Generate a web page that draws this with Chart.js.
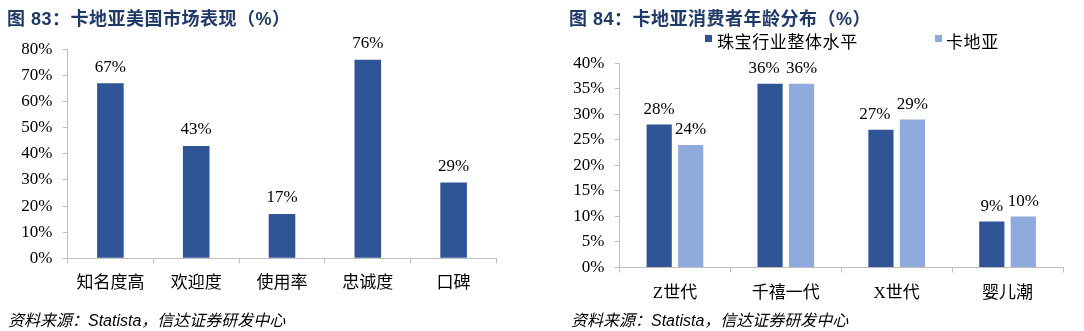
<!DOCTYPE html>
<html>
<head>
<meta charset="utf-8">
<script src="https://cdn.jsdelivr.net/npm/chart.js@4.4.1/dist/chart.umd.min.js"></script>
<style>
  body { margin: 0; background: #fff; }
  #page { position: relative; width: 1084px; height: 331px; overflow: hidden; }
  canvas { position: absolute; top: 0; }
  .title {
    position: absolute; top: 4px; white-space: nowrap;
    font: bold 18px "Liberation Sans", "Noto Sans CJK SC", sans-serif;
    letter-spacing: 0.5px; color: #1F3A68;
  }
  .source {
    position: absolute; top: 307px; white-space: nowrap;
    font: italic 16px "Liberation Sans", "Noto Sans CJK SC", sans-serif;
    color: #000;
  }
  .legend-box { position: absolute; top: 35px; width: 7px; height: 7px; }
  .legend-text {
    position: absolute; top: 28px; white-space: nowrap;
    font: 17px "Liberation Serif", "Noto Sans CJK SC", serif;
    letter-spacing: 0.6px; color: #000;
  }
</style>
</head>
<body>
<div id="page">
  <canvas id="perf-chart" width="540" height="320" style="left:0"></canvas>
  <canvas id="age-chart" width="524" height="320" style="left:560px"></canvas>

  <div class="title" style="left:7px">图 83：卡地亚美国市场表现（%）</div>
  <div class="title" style="left:569px">图 84：卡地亚消费者年龄分布（%）</div>

  <div class="legend-box" style="left:705px;background:#2F5597"></div>
  <div class="legend-text" style="left:717px">珠宝行业整体水平</div>
  <div class="legend-box" style="left:935px;background:#8FAADC"></div>
  <div class="legend-text" style="left:946px">卡地亚</div>

  <div class="source" style="left:8px">资料来源：Statista，信达证券研发中心</div>
  <div class="source" style="left:571px">资料来源：Statista，信达证券研发中心</div>
</div>
<script>
// 图83 数据
var perfLabels = ["知名度高", "欢迎度", "使用率", "忠诚度", "口碑"];
var perfValues = [67, 43, 17, 76, 29];
var perfTicks = [0, 10, 20, 30, 40, 50, 60, 70, 80];

// 图84 数据
var ageLabels = ["Z世代", "千禧一代", "X世代", "婴儿潮"];
var industryValues = [28, 36, 27, 9];
var cartierValues = [24, 36, 29, 10];
var ageTicks = [0, 5, 10, 15, 20, 25, 30, 35, 40];

var AXIS_GREY = "#BFBFBF";
var SERIF = '"Liberation Serif", "Noto Sans CJK SC", serif';

// 柱顶数值标签；相邻两个标签挤在一起时，把左边那个往左挪一点
var valueLabels = {
  id: "valueLabels",
  afterDatasetsDraw(chart, args, opts) {
    var ctx = chart.ctx;
    ctx.save();
    ctx.font = "17px " + SERIF;
    ctx.fillStyle = "#000";
    ctx.textAlign = "center";
    ctx.textBaseline = "alphabetic";
    var sets = chart.data.datasets;
    sets.forEach(function (ds, i) {
      chart.getDatasetMeta(i).data.forEach(function (bar, j) {
        var text = ds.data[j] + "%";
        var x = bar.x;
        if (i === 0 && sets.length > 1) {
          var other = chart.getDatasetMeta(1).data[j];
          var w1 = ctx.measureText(text).width;
          var w2 = ctx.measureText(sets[1].data[j] + "%").width;
          if (Math.abs(other.y - bar.y) < 14 && other.x - bar.x < (w1 + w2) / 2 + 4) x -= 6;
        }
        ctx.fillText(text, x, bar.y - opts.offset);
      });
    });
    ctx.restore();
  },
};

function axisOptions(ticks, yWidth, xHeight, xPad) {
  return {
    x: {
      grid: { offset: true, drawOnChartArea: false, tickLength: 5, tickColor: AXIS_GREY },
      border: { color: AXIS_GREY },
      ticks: { color: "#000", font: { family: SERIF, size: 17 }, padding: xPad, maxRotation: 0 },
      afterFit: function (s) { s.height = xHeight; },
    },
    y: {
      min: ticks[0],
      max: ticks[ticks.length - 1],
      grid: { drawOnChartArea: false, tickLength: 5, tickColor: AXIS_GREY },
      border: { color: AXIS_GREY },
      ticks: {
        color: "#000",
        font: { family: SERIF, size: 17 },
        padding: 10,
        callback: function (v) { return v + "%"; },
      },
      afterBuildTicks: function (s) { s.ticks = ticks.map(function (v) { return { value: v }; }); },
      afterFit: function (s) { s.width = yWidth; },
    },
  };
}

new Chart(document.getElementById("perf-chart").getContext("2d"), {
  type: "bar",
  data: {
    labels: perfLabels,
    datasets: [{
      data: perfValues,
      backgroundColor: "#2F5597",
      categoryPercentage: 1,
      barPercentage: 0.31,
    }],
  },
  options: {
    responsive: false,
    animation: false,
    layout: { padding: { left: 0, top: 49.3, right: 43.5, bottom: 21.7 } },
    plugins: {
      legend: { display: false },
      tooltip: { enabled: false },
      valueLabels: { offset: 11.5 },
    },
    scales: axisOptions(perfTicks, 67.5, 40, 10),
  },
  plugins: [valueLabels],
});

new Chart(document.getElementById("age-chart").getContext("2d"), {
  type: "bar",
  data: {
    labels: ageLabels,
    datasets: [
      {
        label: "珠宝行业整体水平",
        data: industryValues,
        backgroundColor: "#2F5597",
        categoryPercentage: 0.568,
        barPercentage: 0.8,
      },
      {
        label: "卡地亚",
        data: cartierValues,
        backgroundColor: "#8FAADC",
        categoryPercentage: 0.568,
        barPercentage: 0.8,
      },
    ],
  },
  options: {
    responsive: false,
    animation: false,
    layout: { padding: { left: 0, top: 63.3, right: 21, bottom: 12.5 } },
    plugins: {
      legend: { display: false },
      tooltip: { enabled: false },
      valueLabels: { offset: 10.5 },
    },
    scales: axisOptions(ageTicks, 59.5, 40, 10.5),
  },
  plugins: [valueLabels],
});
</script>
</body>
</html>
